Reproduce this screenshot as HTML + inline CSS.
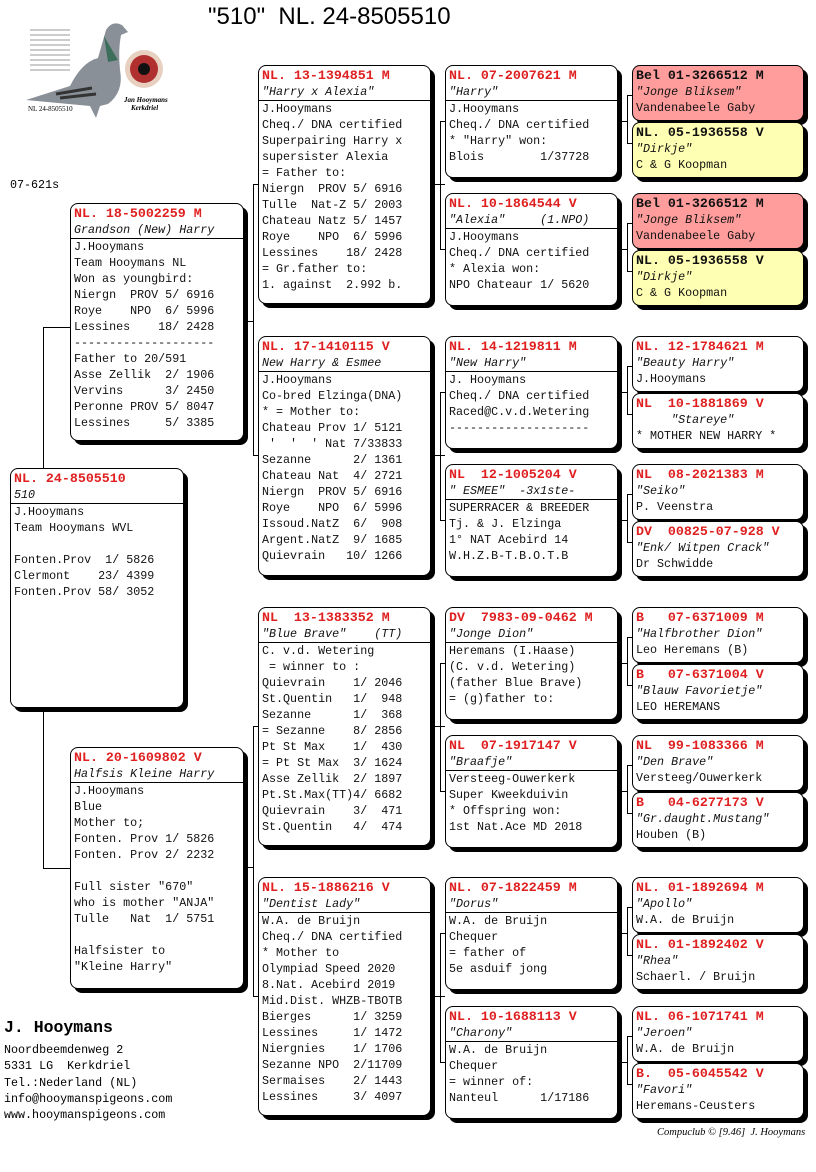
<!DOCTYPE html>
<html><head><meta charset="utf-8">
<style>
body{margin:0;width:816px;height:1172px;background:#fff;position:relative;overflow:hidden;font-family:"Liberation Mono",monospace}
.b{position:absolute;border:1px solid #000;border-radius:8px;box-shadow:4px 4px 0 #000;background:#fff;font:11.7px/16px "Liberation Mono",monospace;padding-top:2px;box-sizing:border-box;white-space:pre;overflow:hidden;color:#111}
.b div{padding-left:3px}
.h{color:#e02020;font-weight:bold;font-size:13.3px}
.k{font-weight:bold;font-size:13.3px}
.n{font-style:italic;border-bottom:1px solid #000}
.i{font-style:italic}
.r{background:#ff9c9c}.y{background:#ffffb4}
.c1{left:10px;width:174px}.c2{left:70px;width:174px}.c3{left:258px;width:173px}.c4{left:445px;width:173px}.c5{left:632px;width:172px;height:56px}
.c4{height:113px}
.t{position:absolute;white-space:pre}
</style></head><body>
<div class="t" style="left:208px;top:3px;font:24px 'Liberation Sans',sans-serif">"510"  NL. 24-8505510</div>
<svg style="position:absolute;left:0;top:0" width="816" height="1172">
<g stroke="#000" stroke-width="1" fill="none">
<path d="M43.5 327V868M43 327.5H70M43 868.5H70"/>
<path d="M253.5 184V455M243 321.5H253M253 184.5H258M253 455.5H258"/>
<path d="M253.5 726V996M243 867.5H253M253 726.5H258M253 996.5H258"/>
<path d="M440.5 121V249M430 184.5H445M440 121.5H445M440 249.5H445"/>
<path d="M440.5 392V520M430 455.5H445M440 392.5H445M440 520.5H445"/>
<path d="M440.5 663V791M430 726.5H445M440 663.5H445M440 791.5H445"/>
<path d="M440.5 933V1062M430 996.5H445M440 933.5H445M440 1062.5H445"/>
<path d="M627.5 95V143M617 121.5H627M627 95.5H632M627 143.5H632"/>
<path d="M627.5 223V271M617 249.5H627M627 223.5H632M627 271.5H632"/>
<path d="M627.5 366V414M617 392.5H627M627 366.5H632M627 414.5H632"/>
<path d="M627.5 494V542M617 520.5H627M627 494.5H632M627 542.5H632"/>
<path d="M627.5 637V685M617 663.5H627M627 637.5H632M627 685.5H632"/>
<path d="M627.5 765V813M617 791.5H627M627 765.5H632M627 813.5H632"/>
<path d="M627.5 907V955M617 933.5H627M627 907.5H632M627 955.5H632"/>
<path d="M627.5 1036V1084M617 1062.5H627M627 1036.5H632M627 1084.5H632"/>
</g>
<g>
<g stroke="#999" stroke-width="1"><path d="M30 30H70M30 35H70M30 40H70M30 45H70M30 50H70M30 55H70M30 60H70M30 65H70M30 70H70"/></g>
<path d="M26 100 L70 86 Q82 62 98 58 L106 30 Q112 20 122 25 L128 32 L121 35 Q118 50 120 70 Q124 92 108 104 L100 106 L96 118 L90 106 Z" fill="#8a9098"/>
<path d="M104 36 Q112 50 118 60 L108 62 Z" fill="#3c6e5c"/>
<path d="M56 94 L92 88 M60 98 L96 94" stroke="#333" stroke-width="3"/>
<circle cx="144" cy="69" r="19" fill="#e8d0c0"/>
<circle cx="144" cy="69" r="14" fill="#b03030"/>
<circle cx="144" cy="69" r="6" fill="#111"/>
<text x="124" y="102" font-family="Liberation Serif" font-size="7" font-style="italic" font-weight="bold">Jan Hooymans</text>
<text x="131" y="110" font-family="Liberation Serif" font-size="7" font-style="italic" font-weight="bold">Kerkdriel</text>
<text x="28" y="111" font-family="Liberation Serif" font-size="7">NL 24-8505510</text>
</g>
</svg>
<div class="t" style="left:10px;top:178px;font-size:11.7px">07-621s</div>

<div class="b c1" style="top:468px;height:240px"><div class="h">NL. 24-8505510</div><div class="n">510</div><div>J.Hooymans
Team Hooymans WVL

Fonten.Prov  1/ 5826
Clermont    23/ 4399
Fonten.Prov 58/ 3052</div></div>

<div class="b c2" style="top:203px;height:238px"><div class="h">NL. 18-5002259 M</div><div class="n">Grandson (New) Harry</div><div>J.Hooymans
Team Hooymans NL
Won as youngbird:
Niergn  PROV 5/ 6916
Roye    NPO  6/ 5996
Lessines    18/ 2428
--------------------
Father to 20/591
Asse Zellik  2/ 1906
Vervins      3/ 2450
Peronne PROV 5/ 8047
Lessines     5/ 3385</div></div>

<div class="b c2" style="top:747px;height:242px"><div class="h">NL. 20-1609802 V</div><div class="n">Halfsis Kleine Harry</div><div>J.Hooymans
Blue
Mother to;
Fonten. Prov 1/ 5826
Fonten. Prov 2/ 2232

Full sister "670"
who is mother "ANJA"
Tulle   Nat  1/ 5751

Halfsister to
"Kleine Harry"</div></div>

<div class="b c3" style="top:65px;height:239px"><div class="h">NL. 13-1394851 M</div><div class="n">"Harry x Alexia"</div><div>J.Hooymans
Cheq./ DNA certified
Superpairing Harry x
supersister Alexia
= Father to:
Niergn  PROV 5/ 6916
Tulle  Nat-Z 5/ 2003
Chateau Natz 5/ 1457
Roye    NPO  6/ 5996
Lessines    18/ 2428
= Gr.father to:
1. against  2.992 b.</div></div>

<div class="b c3" style="top:336px;height:240px"><div class="h">NL. 17-1410115 V</div><div class="n">New Harry &amp; Esmee</div><div>J.Hooymans
Co-bred Elzinga(DNA)
* = Mother to:
Chateau Prov 1/ 5121
 '  '  ' Nat 7/33833
Sezanne      2/ 1361
Chateau Nat  4/ 2721
Niergn  PROV 5/ 6916
Roye    NPO  6/ 5996
Issoud.NatZ  6/  908
Argent.NatZ  9/ 1685
Quievrain   10/ 1266</div></div>

<div class="b c3" style="top:607px;height:239px"><div class="h">NL  13-1383352 M</div><div class="n">"Blue Brave"    (TT)</div><div>C. v.d. Wetering
 = winner to :
Quievrain    1/ 2046
St.Quentin   1/  948
Sezanne      1/  368
= Sezanne    8/ 2856
Pt St Max    1/  430
= Pt St Max  3/ 1624
Asse Zellik  2/ 1897
Pt.St.Max(TT)4/ 6682
Quievrain    3/  471
St.Quentin   4/  474</div></div>

<div class="b c3" style="top:877px;height:239px"><div class="h">NL. 15-1886216 V</div><div class="n">"Dentist Lady"</div><div>W.A. de Bruijn
Cheq./ DNA certified
* Mother to
Olympiad Speed 2020
8.Nat. Acebird 2019
Mid.Dist. WHZB-TBOTB
Bierges      1/ 3259
Lessines     1/ 1472
Niergnies    1/ 1706
Sezanne NPO  2/11709
Sermaises    2/ 1443
Lessines     3/ 4097</div></div>

<div class="b c4" style="top:65px"><div class="h">NL. 07-2007621 M</div><div class="n">"Harry"</div><div>J.Hooymans
Cheq./ DNA certified
* "Harry" won:
Blois        1/37728</div></div>
<div class="b c4" style="top:193px"><div class="h">NL. 10-1864544 V</div><div class="n">"Alexia"     (1.NPO)</div><div>J.Hooymans
Cheq./ DNA certified
* Alexia won:
NPO Chateaur 1/ 5620</div></div>
<div class="b c4" style="top:336px"><div class="h">NL. 14-1219811 M</div><div class="n">"New Harry"</div><div>J. Hooymans
Cheq./ DNA certified
Raced@C.v.d.Wetering
--------------------</div></div>
<div class="b c4" style="top:464px"><div class="h">NL  12-1005204 V</div><div class="n">" ESMEE"  -3x1ste-</div><div>SUPERRACER &amp; BREEDER
Tj. &amp; J. Elzinga
1° NAT Acebird 14
W.H.Z.B-T.B.O.T.B</div></div>
<div class="b c4" style="top:607px"><div class="h">DV  7983-09-0462 M</div><div class="n">"Jonge Dion"</div><div>Heremans (I.Haase)
(C. v.d. Wetering)
(father Blue Brave)
= (g)father to:</div></div>
<div class="b c4" style="top:735px"><div class="h">NL  07-1917147 V</div><div class="n">"Braafje"</div><div>Versteeg-Ouwerkerk
Super Kweekduivin
* Offspring won:
1st Nat.Ace MD 2018</div></div>
<div class="b c4" style="top:877px"><div class="h">NL. 07-1822459 M</div><div class="n">"Dorus"</div><div>W.A. de Bruijn
Chequer
= father of
5e asduif jong</div></div>
<div class="b c4" style="top:1006px"><div class="h">NL. 10-1688113 V</div><div class="n">"Charony"</div><div>W.A. de Bruijn
Chequer
= winner of:
Nanteul      1/17186</div></div>

<div class="b c5 r" style="top:65px"><div class="k">Bel 01-3266512 M</div><div class="i">"Jonge Bliksem"</div><div>Vandenabeele Gaby</div></div>
<div class="b c5 y" style="top:122px"><div class="k">NL. 05-1936558 V</div><div class="i">"Dirkje"</div><div>C &amp; G Koopman</div></div>
<div class="b c5 r" style="top:193px"><div class="k">Bel 01-3266512 M</div><div class="i">"Jonge Bliksem"</div><div>Vandenabeele Gaby</div></div>
<div class="b c5 y" style="top:250px"><div class="k">NL. 05-1936558 V</div><div class="i">"Dirkje"</div><div>C &amp; G Koopman</div></div>
<div class="b c5" style="top:336px"><div class="h">NL. 12-1784621 M</div><div class="i">"Beauty Harry"</div><div>J.Hooymans</div></div>
<div class="b c5" style="top:393px"><div class="h">NL  10-1881869 V</div><div class="i">     "Stareye"</div><div>* MOTHER NEW HARRY *</div></div>
<div class="b c5" style="top:464px"><div class="h">NL  08-2021383 M</div><div class="i">"Seiko"</div><div>P. Veenstra</div></div>
<div class="b c5" style="top:521px"><div class="h">DV  00825-07-928 V</div><div class="i">"Enk/ Witpen Crack"</div><div>Dr Schwidde</div></div>
<div class="b c5" style="top:607px"><div class="h">B   07-6371009 M</div><div class="i">"Halfbrother Dion"</div><div>Leo Heremans (B)</div></div>
<div class="b c5" style="top:664px"><div class="h">B   07-6371004 V</div><div class="i">"Blauw Favorietje"</div><div>LEO HEREMANS</div></div>
<div class="b c5" style="top:735px"><div class="h">NL  99-1083366 M</div><div class="i">"Den Brave"</div><div>Versteeg/Ouwerkerk</div></div>
<div class="b c5" style="top:792px"><div class="h">B   04-6277173 V</div><div class="i">"Gr.daught.Mustang"</div><div>Houben (B)</div></div>
<div class="b c5" style="top:877px"><div class="h">NL. 01-1892694 M</div><div class="i">"Apollo"</div><div>W.A. de Bruijn</div></div>
<div class="b c5" style="top:934px"><div class="h">NL. 01-1892402 V</div><div class="i">"Rhea"</div><div>Schaerl. / Bruijn</div></div>
<div class="b c5" style="top:1006px"><div class="h">NL. 06-1071741 M</div><div class="i">"Jeroen"</div><div>W.A. de Bruijn</div></div>
<div class="b c5" style="top:1063px"><div class="h">B.  05-6045542 V</div><div class="i">"Favori"</div><div>Heremans-Ceusters</div></div>

<div class="t" style="left:4px;top:1018px;font:bold 16.5px 'Liberation Mono',monospace">J. Hooymans</div>
<div class="t" style="left:4px;top:1042px;font:11.7px/16.3px 'Liberation Mono',monospace">Noordbeemdenweg 2
5331 LG  Kerkdriel
Tel.:Nederland (NL)
info@hooymanspigeons.com
www.hooymanspigeons.com</div>
<div class="t" style="left:657px;top:1127px;font:italic 10.5px 'Liberation Serif',serif">Compuclub © [9.46]  J. Hooymans</div>
</body></html>
